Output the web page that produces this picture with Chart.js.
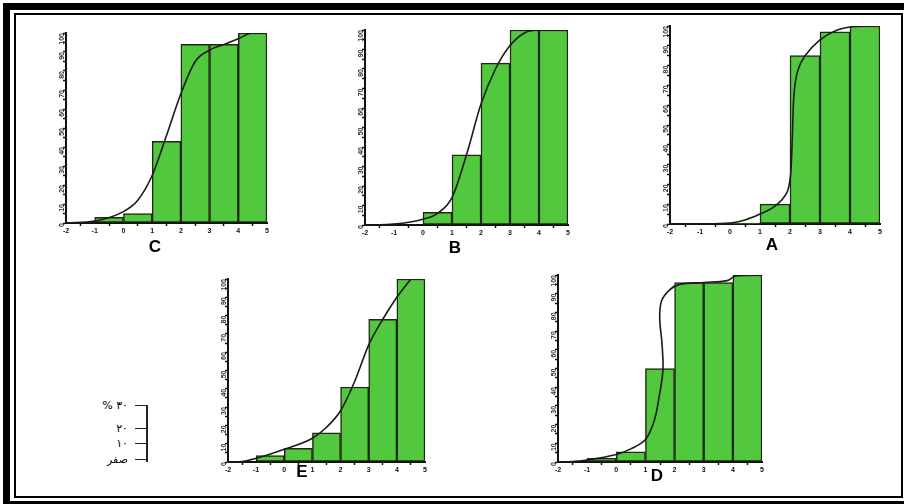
<!DOCTYPE html>
<html>
<head>
<meta charset="utf-8">
<script src="https://cdn.jsdelivr.net/npm/chart.js@4/dist/chart.umd.min.js"></script>
<style>
  html, body { margin:0; padding:0; background:#fff; width:904px; height:504px; overflow:hidden; }
  #stage { position:relative; width:904px; height:504px; }
  .outer { position:absolute; left:3px; top:3px; width:920px; height:505px; box-sizing:border-box; border:7px solid #000; }
  .inner { position:absolute; left:14px; top:13px; width:889px; height:485px; box-sizing:border-box; border:2px solid #000; }
  canvas.ch { position:absolute; }
  .lbl { position:absolute; font-family:"Liberation Sans", Arial, sans-serif; font-weight:bold; font-size:17px; color:#000; transform:translate(-50%,-50%); }
  .leg { position:absolute; font-family:"DejaVu Sans", sans-serif; font-size:11px; color:#000; text-align:right; transform:translateY(-50%); -webkit-font-smoothing:antialiased; }
</style>
</head>
<body>
<div id="stage">
  <div class="outer"></div>
  <div class="inner"></div>
  <canvas id="cC" class="ch"></canvas>
  <canvas id="cB" class="ch"></canvas>
  <canvas id="cA" class="ch"></canvas>
  <canvas id="cE" class="ch"></canvas>
  <canvas id="cD" class="ch"></canvas>
  <div class="lbl" style="left:155px; top:247px;">C</div>
  <div class="lbl" style="left:455px; top:248px;">B</div>
  <div class="lbl" style="left:772px; top:245px;">A</div>
  <div class="lbl" style="left:302px; top:472px;">E</div>
  <div class="lbl" style="left:657px; top:476px;">D</div>
  <div id="legend"></div>
</div>
<script>
// ---------------- DATA ----------------
const binCenters = [-0.5, 0.5, 1.5, 2.5, 3.5, 4.5];
const xTickValues = [-2, -1, 0, 1, 2, 3, 4, 5];

const barsC = [3, 5, 43, 94, 94, 100];
const curveCx = [-2, -1, 0, 0.5, 1, 1.5, 2, 2.5, 3, 3.5, 4, 4.5, 5];
const curveCy = [0, 1, 6, 12, 25, 46, 68, 85, 91, 94, 97, 100, 100];

const barsB = [0, 6.5, 36, 83, 100, 100];
const curveBx = [-2, -1, 0, 0.5, 1, 1.5, 2, 2.5, 3, 3.5, 4, 5];
const curveBy = [0, 0.5, 3, 6, 14, 36, 62, 80, 92, 98.5, 100, 100];

const barsA = [0, 0.5, 10, 85, 97, 100];
const curveAx = [-2, -1, 0, 0.5, 1, 1.5, 1.9, 2.02, 2.08, 2.13, 2.25, 2.5, 3, 3.5, 4, 4.5];
const curveAy = [0, 0, 0.5, 2, 5, 9, 16, 25, 45, 65, 77, 85, 93, 97.5, 99.5, 100];

const barsE = [3.5, 7.5, 16, 41, 78, 100];
const curveEx = [-2, -1.5, -1, 0, 1, 1.5, 2, 2.5, 3, 3.5, 4, 4.5];
const curveEy = [0, 0.3, 2, 7, 13, 19, 28, 44, 64, 78, 90, 100];

const barsD = [2, 5.5, 50, 96, 96, 100];
const curveDx = [-2, -1.5, -1, 0, 0.5, 1, 1.3, 1.45, 1.6, 1.57, 1.49, 1.55, 1.83, 2.17, 3, 3.8, 4.1, 5];
const curveDy = [0, 0.3, 1, 4, 7, 12, 22, 33, 49, 63, 77, 86, 92, 95, 96, 97, 99.5, 100];

const legendLabels = ["% ٣٠", "٢٠", "١٠", "صفر"];

// ---------------- LAYOUT ----------------
const Y_AXIS_W = 18, X_AXIS_H = 16, PAD_T = 6, PAD_R = 6;

function makeChart(id, area, bars, cx, cy, tension, mono) {
  const cv = document.getElementById(id);
  const w = (area.r - area.l) + Y_AXIS_W + PAD_R;
  const h = (area.b - area.t) + PAD_T + X_AXIS_H;
  cv.width = w; cv.height = h;
  cv.style.left = (area.l - Y_AXIS_W) + 'px';
  cv.style.top = (area.t - PAD_T) + 'px';
  cv.style.width = w + 'px'; cv.style.height = h + 'px';
  const barData = binCenters.map((x, i) => ({x: x, y: bars[i]})).filter(p => p.y > 0);
  const lineData = cx.map((x, i) => ({x: x, y: cy[i]}));
  new Chart(cv, {
    type: 'bar',
    data: {
      datasets: [
        {
          type: 'scatter',
          data: lineData,
          showLine: true,
          borderColor: '#1b1b1b',
          borderWidth: 1.6,
          pointRadius: 0,
          tension: tension,
          cubicInterpolationMode: mono ? 'monotone' : 'default',
          order: 0
        },
        {
          type: 'bar',
          data: barData,
          backgroundColor: '#52c83e',
          borderColor: '#1e2a10',
          borderWidth: 1.5,
          borderSkipped: false,
          barPercentage: 1,
          categoryPercentage: 1,
          order: 1
        }
      ]
    },
    options: {
      responsive: false,
      animation: false,
      devicePixelRatio: 1,
      layout: { padding: { left: 0, top: PAD_T, right: PAD_R, bottom: 0 } },
      plugins: { legend: { display: false }, tooltip: { enabled: false } },
      scales: {
        x: {
          type: 'linear', min: -2, max: 5, offset: false,
          afterFit: s => { s.height = X_AXIS_H; },
          afterBuildTicks: s => { s.ticks = xTickValues.map(v => ({value: v})); },
          grid: { drawOnChartArea: false, drawTicks: true, tickLength: 3, color: '#111', tickWidth: 1.5 },
          border: { color: '#111', width: 2 },
          ticks: { font: { size: 7, weight: 'bold', family: 'Liberation Sans' }, color: '#111', padding: 1, maxRotation: 0, autoSkip: false }
        },
        y: {
          min: 0, max: 100,
          afterFit: s => { s.width = Y_AXIS_W; },
          grid: { drawOnChartArea: false, drawTicks: true, tickLength: 3, color: '#111', tickWidth: 1.5 },
          border: { color: '#111', width: 2 },
          ticks: {
            stepSize: 5, autoSkip: false,
            minRotation: 90, maxRotation: 90,
            font: { size: 7, weight: 'bold', family: 'Liberation Sans' }, color: '#333', padding: 1,
            callback: v => (v % 10 === 0 ? String(v) : '')
          }
        }
      }
    }
  });
}

makeChart('cC', {l: 66, r: 267, t: 33, b: 223}, barsC, curveCx, curveCy, 0.4, true);
makeChart('cB', {l: 365, r: 568, t: 30, b: 225}, barsB, curveBx, curveBy, 0.4, true);
makeChart('cA', {l: 670, r: 880, t: 26, b: 224}, barsA, curveAx, curveAy, 0.3, false);
makeChart('cE', {l: 228, r: 425, t: 279, b: 462}, barsE, curveEx, curveEy, 0.4, true);
makeChart('cD', {l: 558, r: 762, t: 275, b: 462}, barsD, curveDx, curveDy, 0.35, false);

// small Arabic scale legend (bottom-left)
(function () {
  const leg = document.getElementById('legend');
  const ys = [405, 428, 443, 459];
  const line = document.createElement('div');
  line.style.cssText = 'position:absolute;left:146px;top:405px;width:2px;height:57px;background:#222;';
  leg.appendChild(line);
  legendLabels.forEach((t, i) => {
    const tk = document.createElement('div');
    tk.style.cssText = 'position:absolute;left:135px;top:' + (ys[i] - 0.5) + 'px;width:12px;height:1.5px;background:#222;';
    leg.appendChild(tk);
    const d = document.createElement('div');
    d.className = 'leg';
    d.style.left = '80px'; d.style.width = '48px'; d.style.top = ys[i] + 'px';
    d.textContent = t;
    leg.appendChild(d);
  });
})();
</script>
</body>
</html>
